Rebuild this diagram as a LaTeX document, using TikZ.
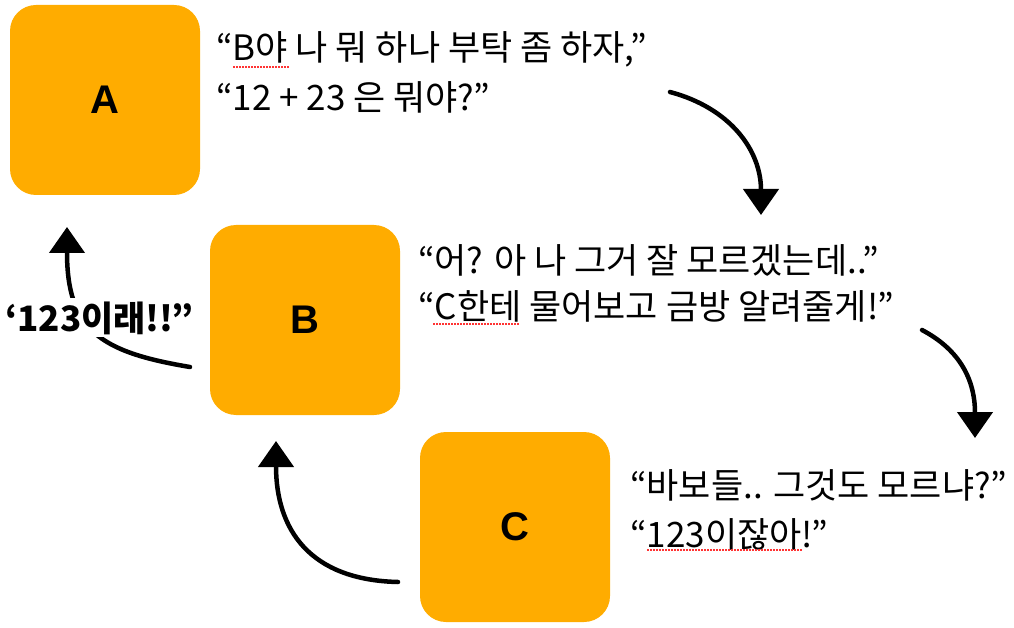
\documentclass[tikz,border=0pt]{standalone}
\usepackage{fontspec}
\setmainfont{Noto Sans CJK KR}
\newfontfamily\labfont{Liberation Sans}
\usetikzlibrary{arrows.meta}
\definecolor{boxorange}{RGB}{255,172,0}
\tikzset{
  box/.style={fill=boxorange, rounded corners=26pt, minimum width=190pt, minimum height=190pt,
    inner sep=0pt, font=\labfont\bfseries\fontsize{40}{40}\selectfont},
  say/.style={anchor=base west, inner sep=0pt, font=\fontsize{35}{40}\selectfont},
  arr/.style={line width=4.5pt, line cap=round, -{Triangle[length=26pt,width=35pt]}},
  spell/.style={red!80!white, line width=1.3pt, dash pattern=on 1.5pt off 1.5pt}
}
\begin{document}
\begin{tikzpicture}[x=1pt,y=-1pt]
\useasboundingbox (0,0) rectangle (1014,628);
% boxes
\node[box] (A) at (105,100) {A};
\node[box] (B) at (305,320) {B};
\node[box] (C) at (515,527) {C};
% speech
\node[say] (ta1) at (216,61) {“B야 나 뭐 하나 부탁 좀 하자,”};
\node[say] (ta2) at (216,111) {“12 + 23 은 뭐야?”};
\node[say] (tb1) at (418,273) {“어? 아 나 그거 잘 모르겠는데..”};
\node[say] (tb2) at (418,319) {“C한테 물어보고 금방 알려줄게!”};
\node[say] (tc1) at (630,498) {“바보들.. 그것도 모르냐?”};
\node[say] (tc2) at (630,547) {“123이잖아!”};
% spellcheck marks
\draw[spell] (233,67) -- (290,67);
\draw[spell] (433,324) -- (520,324);
\draw[spell] (647,550) -- (803,550);
% arrows
\coordinate (a1s) at (670,92);
\coordinate (a1e) at (761,215);
\draw[arr] (a1s) .. controls (730,108) and (761,150) .. (a1e);
\coordinate (a2s) at (922,330);
\coordinate (a2e) at (975,438);
\draw[arr] (a2s) .. controls (960,350) and (975,380) .. (a2e);
\coordinate (a3s) at (398,582);
\coordinate (a3e) at (276,441);
\draw[arr] (a3s) .. controls (310,580) and (276,530) .. (a3e);
\coordinate (a4s) at (190,367);
\coordinate (a4e) at (67,227);
\draw[arr] (a4s) .. controls (100,352) and (67,330) .. (a4e);
\node[anchor=base west, fill=white, inner sep=3pt, font=\bfseries\fontsize{35}{40}\selectfont] (lab) at (2,331) {‘123이래!!”};
\end{tikzpicture}
\end{document}
